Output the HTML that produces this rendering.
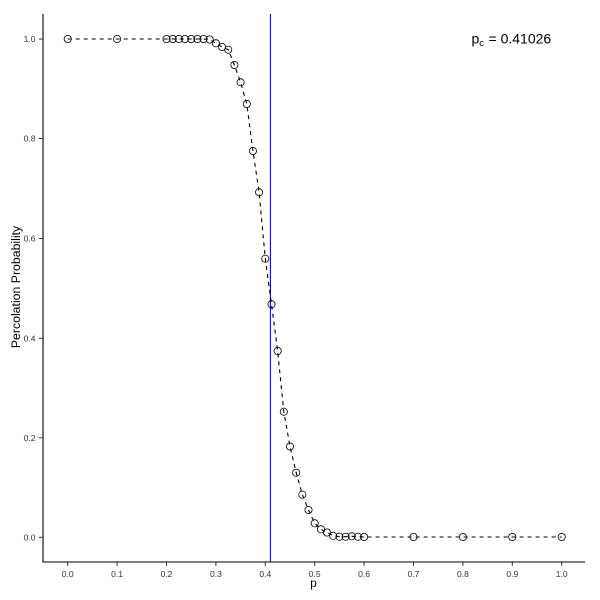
<!DOCTYPE html>
<html>
<head>
<meta charset="utf-8">
<style>
  html, body { margin: 0; padding: 0; background: #fff; }
  svg { display: block; }
  text { font-family: "Liberation Sans", "DejaVu Sans", sans-serif; }
</style>
</head>
<body>
<svg width="600" height="600" viewBox="0 0 600 600" xmlns="http://www.w3.org/2000/svg">
  <rect x="0" y="0" width="600" height="600" fill="#fff"/>

  <!-- axes -->
  <line x1="43" y1="14" x2="43" y2="562.5" stroke="#000" stroke-width="1.1"/>
  <line x1="42.5" y1="562" x2="585" y2="562" stroke="#000" stroke-width="1.1"/>

  <!-- y ticks -->
  <g stroke="#333" stroke-width="1">
    <line x1="39" y1="537.3" x2="43" y2="537.3"/>
    <line x1="39" y1="437.8" x2="43" y2="437.8"/>
    <line x1="39" y1="338.3" x2="43" y2="338.3"/>
    <line x1="39" y1="238.5" x2="43" y2="238.5"/>
    <line x1="39" y1="138.5" x2="43" y2="138.5"/>
    <line x1="39" y1="39" x2="43" y2="39"/>
  </g>
  <g font-size="8.5" fill="#333" text-anchor="end">
    <text x="35.5" y="540.3">0.0</text>
    <text x="35.5" y="440.8">0.2</text>
    <text x="35.5" y="341.3">0.4</text>
    <text x="35.5" y="241.5">0.6</text>
    <text x="35.5" y="141.5">0.8</text>
    <text x="35.5" y="42">1.0</text>
  </g>

  <!-- x ticks -->
  <g stroke="#333" stroke-width="1">
    <line x1="67.7" y1="562" x2="67.7" y2="566"/>
    <line x1="117.1" y1="562" x2="117.1" y2="566"/>
    <line x1="166.5" y1="562" x2="166.5" y2="566"/>
    <line x1="215.9" y1="562" x2="215.9" y2="566"/>
    <line x1="265.3" y1="562" x2="265.3" y2="566"/>
    <line x1="314.7" y1="562" x2="314.7" y2="566"/>
    <line x1="364.1" y1="562" x2="364.1" y2="566"/>
    <line x1="413.5" y1="562" x2="413.5" y2="566"/>
    <line x1="462.9" y1="562" x2="462.9" y2="566"/>
    <line x1="512.3" y1="562" x2="512.3" y2="566"/>
    <line x1="561.7" y1="562" x2="561.7" y2="566"/>
  </g>
  <g font-size="8.5" fill="#333" text-anchor="middle">
    <text x="67.7" y="577">0.0</text>
    <text x="117.1" y="577">0.1</text>
    <text x="166.5" y="577">0.2</text>
    <text x="215.9" y="577">0.3</text>
    <text x="265.3" y="577">0.4</text>
    <text x="314.7" y="577">0.5</text>
    <text x="364.1" y="577">0.6</text>
    <text x="413.5" y="577">0.7</text>
    <text x="462.9" y="577">0.8</text>
    <text x="512.3" y="577">0.9</text>
    <text x="561.7" y="577">1.0</text>
  </g>

  <!-- axis titles -->
  <text x="313.5" y="587" font-size="12" text-anchor="middle" fill="#000">p</text>
  <text transform="translate(20,287) rotate(-90)" font-size="12.3" text-anchor="middle" fill="#000">Percolation Probability</text>

  <!-- critical line -->
  <line x1="270.4" y1="14" x2="270.4" y2="562" stroke="#0000FF" stroke-width="1.1"/>

  <!-- dashed curve -->
  <polyline fill="none" stroke="#000" stroke-width="1.1" stroke-dasharray="4,4"
    points="67.7,39 117.1,39 166.5,39 172.7,39 178.85,39 185,39 191.2,39 197.4,39 203.55,39 209.7,39.5 215.9,43.3 222.1,47 228.25,49.7 234.4,65 240.6,82.3 246.8,104 252.95,151 259.1,192.3 265.3,258.7 271.5,304.3 277.65,351 283.8,411.7 290,446.5 296.2,472.7 302.35,494.7 308.5,510 314.7,523.3 320.9,529.3 327.05,532.5 333.2,535.8 339.4,536.7 345.6,536.7 351.75,536.3 357.9,536.7 364.1,537 413.5,537 462.9,537 512.3,537 561.7,537"/>

  <!-- points -->
  <g fill="none" stroke="#000" stroke-width="0.8">
    <circle cx="67.7" cy="39" r="3.6"/>
    <circle cx="117.1" cy="39" r="3.6"/>
    <circle cx="166.5" cy="39" r="3.6"/>
    <circle cx="172.7" cy="39" r="3.6"/>
    <circle cx="178.85" cy="39" r="3.6"/>
    <circle cx="185" cy="39" r="3.6"/>
    <circle cx="191.2" cy="39" r="3.6"/>
    <circle cx="197.4" cy="39" r="3.6"/>
    <circle cx="203.55" cy="39" r="3.6"/>
    <circle cx="209.7" cy="39.5" r="3.6"/>
    <circle cx="215.9" cy="43.3" r="3.6"/>
    <circle cx="222.1" cy="47" r="3.6"/>
    <circle cx="228.25" cy="49.7" r="3.6"/>
    <circle cx="234.4" cy="65" r="3.6"/>
    <circle cx="240.6" cy="82.3" r="3.6"/>
    <circle cx="246.8" cy="104" r="3.6"/>
    <circle cx="252.95" cy="151" r="3.6"/>
    <circle cx="259.1" cy="192.3" r="3.6"/>
    <circle cx="265.3" cy="258.7" r="3.6"/>
    <circle cx="271.5" cy="304.3" r="3.6"/>
    <circle cx="277.65" cy="351" r="3.6"/>
    <circle cx="283.8" cy="411.7" r="3.6"/>
    <circle cx="290" cy="446.5" r="3.6"/>
    <circle cx="296.2" cy="472.7" r="3.6"/>
    <circle cx="302.35" cy="494.7" r="3.6"/>
    <circle cx="308.5" cy="510" r="3.6"/>
    <circle cx="314.7" cy="523.3" r="3.6"/>
    <circle cx="320.9" cy="529.3" r="3.6"/>
    <circle cx="327.05" cy="532.5" r="3.6"/>
    <circle cx="333.2" cy="535.8" r="3.6"/>
    <circle cx="339.4" cy="536.7" r="3.6"/>
    <circle cx="345.6" cy="536.7" r="3.6"/>
    <circle cx="351.75" cy="536.3" r="3.6"/>
    <circle cx="357.9" cy="536.7" r="3.6"/>
    <circle cx="364.1" cy="537" r="3.6"/>
    <circle cx="413.5" cy="537" r="3.6"/>
    <circle cx="462.9" cy="537" r="3.6"/>
    <circle cx="512.3" cy="537" r="3.6"/>
    <circle cx="561.7" cy="537" r="3.6"/>
  </g>

  <!-- annotation -->
  <text x="471.5" y="43.5" font-size="14" fill="#000">p<tspan font-size="9.5" dy="2.5">c</tspan><tspan x="488.5" dy="-2.5">= 0.41026</tspan></text>
</svg>
</body>
</html>
